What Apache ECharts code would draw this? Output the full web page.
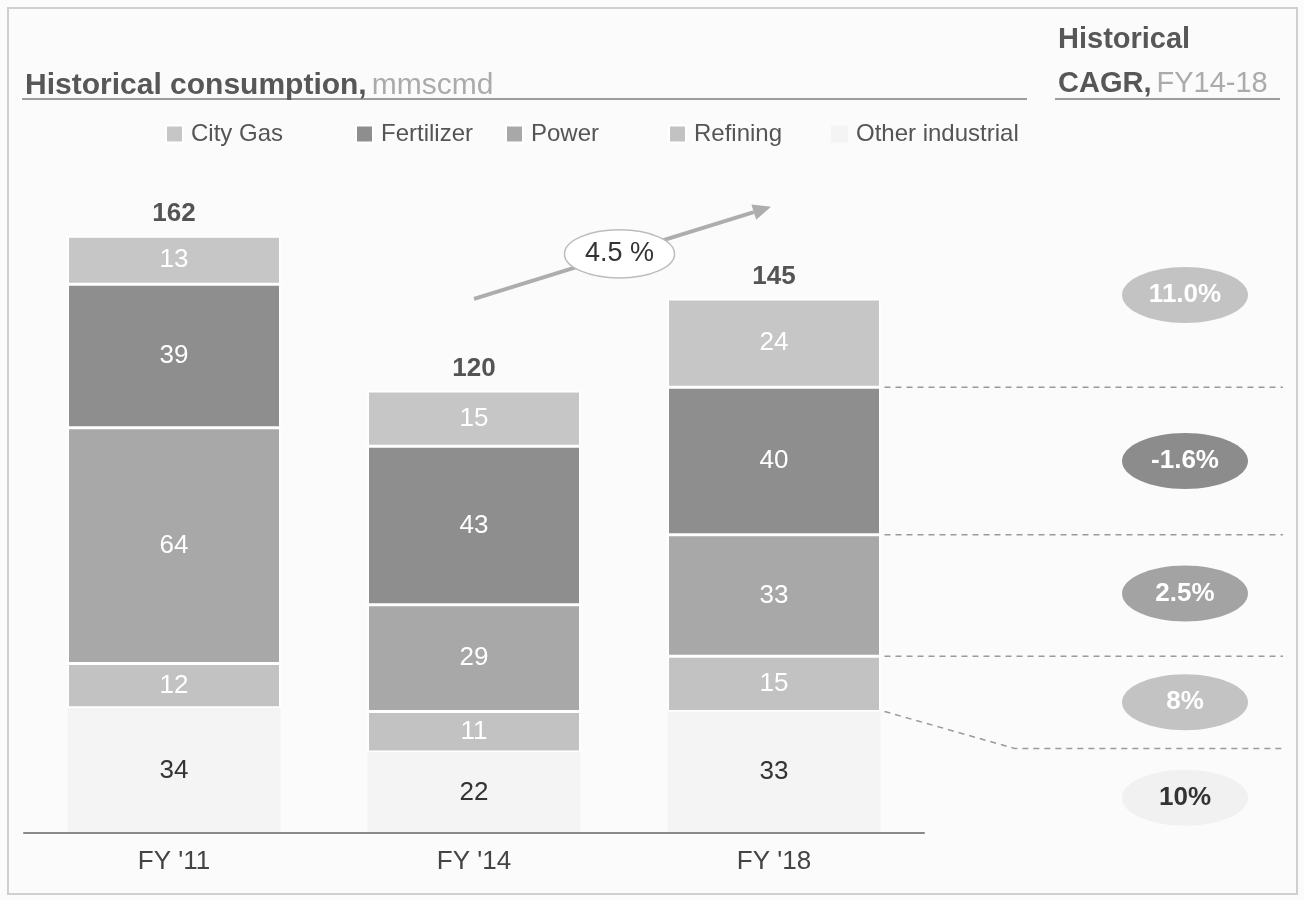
<!DOCTYPE html>
<html>
<head>
<meta charset="utf-8">
<script src="https://cdn.jsdelivr.net/npm/echarts@6/dist/echarts.min.js"></script>
<style>
  html, body { margin: 0; padding: 0; background: #fbfbfb; }
  #chart { width: 1304px; height: 900px; }
</style>
</head>
<body>
<div id="chart"></div>
<script>
// Gas consumption by segment, mmscmd
const years = ["FY '11", "FY '14", "FY '18"];
const cityGas = [13, 15, 24];
const fertilizer = [39, 43, 40];
const power = [64, 29, 33];
const refining = [12, 11, 15];
const otherIndustrial = [34, 22, 33];

// FY14-18 growth rates: City Gas, Fertilizer, Power, Refining, Other industrial
const segmentCagr = ['11.0%', '-1.6%', '2.5%', '8%', '10%'];
const totalCagr = '4.5 %';

const FONT = '"Liberation Sans", Arial, sans-serif';
const BAR_W = 213;
const COLORS = {
  city: '#c6c6c6',
  fert: '#8e8e8e',
  power: '#a8a8a8',
  ref: '#c2c2c2',
  other: '#f4f4f4'
};

const totals = years.map((_, i) =>
  cityGas[i] + fertilizer[i] + power[i] + refining[i] + otherIndustrial[i]);

function barSeries(name, data, color, labelColor, border) {
  return {
    name, type: 'bar', stack: 'total', data, barWidth: BAR_W,
    itemStyle: { color, borderColor: '#ffffff', borderWidth: border },
    label: {
      show: true, position: 'inside', color: labelColor,
      fontFamily: FONT, fontSize: 26
    },
    emphasis: { disabled: true }
  };
}

function legendItem(name, left) {
  return {
    data: [name], left, top: 117, icon: 'rect',
    itemWidth: 17, itemHeight: 17, itemGap: 0,
    textStyle: { fontFamily: FONT, fontSize: 24, color: '#555', padding: [0, 0, 0, 3] },
    selectedMode: false
  };
}

const option = {
  backgroundColor: '#fbfbfb',
  animation: false,
  title: [
    {
      text: '{a|Historical consumption,} {b|mmscmd}',
      left: 20, top: 66,
      textStyle: {
        rich: {
          a: { fontFamily: FONT, fontSize: 30, fontWeight: 'bold', color: '#575757' },
          b: { fontFamily: FONT, fontSize: 30, fontWeight: 'normal', color: '#ababab' }
        }
      }
    },
    {
      text: '{a|Historical}\n{a|CAGR,} {b|FY14-18}',
      left: 1053, top: 13,
      textStyle: {
        rich: {
          a: { fontFamily: FONT, fontSize: 29, fontWeight: 'bold', color: '#575757', lineHeight: 44 },
          b: { fontFamily: FONT, fontSize: 29, fontWeight: 'normal', color: '#ababab', lineHeight: 44 }
        }
      }
    }
  ],
  legend: [
    legendItem('City Gas', 160),
    legendItem('Fertilizer', 350),
    legendItem('Power', 500),
    legendItem('Refining', 663),
    legendItem('Other industrial', 826)
  ],
  grid: { left: 24, right: 380, top: 170, bottom: 67 },
  xAxis: {
    type: 'category', data: years, z: 5,
    axisLine: { lineStyle: { color: '#8a8a8a', width: 2 } },
    axisTick: { show: false },
    axisLabel: { fontFamily: FONT, fontSize: 26, color: '#444', margin: 16 }
  },
  yAxis: { type: 'value', min: 0, max: 180, show: false, splitLine: { show: false } },
  series: [
    barSeries('Other industrial', otherIndustrial, COLORS.other, '#333', 0),
    barSeries('Refining', refining, COLORS.ref, '#ffffff', 1.5),
    barSeries('Power', power, COLORS.power, '#ffffff', 1.5),
    barSeries('Fertilizer', fertilizer, COLORS.fert, '#ffffff', 1.5),
    barSeries('City Gas', cityGas, COLORS.city, '#ffffff', 1.5),
    {
      name: 'Total', type: 'scatter', data: totals,
      symbolSize: 1, itemStyle: { color: 'rgba(0,0,0,0)' },
      label: {
        show: true, position: 'top', distance: 9,
        fontFamily: FONT, fontSize: 26, fontWeight: 'bold', color: '#2b2b2b'
      },
      emphasis: { disabled: true }
    }
  ]
};

const chart = echarts.init(document.getElementById('chart'));
chart.setOption(option);

// Annotations placed from the chart's own scales
const px = (i, v) => chart.convertToPixel({ xAxisIndex: 0, yAxisIndex: 0 }, [i, v]);
const yOf = v => px(2, v)[1];

const last = 2;
const c0 = otherIndustrial[last];
const c1 = c0 + refining[last];
const c2 = c1 + power[last];
const c3 = c2 + fertilizer[last];
const c4 = c3 + cityGas[last];

const xRight = px(last, 0)[0] + BAR_W / 2 + 4;
const xEnd = 1283;
const dashStyle = { stroke: '#9a9a9a', lineWidth: 1.5, lineDash: [6, 5] };
const yDrop = yOf(c0) + 37;

const graphics = [];

// frame and header rules
graphics.push({ type: 'rect', shape: { x: 8, y: 8, width: 1289, height: 886 },
  style: { fill: null, stroke: '#cfcfcf', lineWidth: 2 }, silent: true });
graphics.push({ type: 'line', shape: { x1: 22, y1: 99, x2: 1027, y2: 99 },
  style: { stroke: '#9c9c9c', lineWidth: 2 }, silent: true });
graphics.push({ type: 'line', shape: { x1: 1055, y1: 99, x2: 1280, y2: 99 },
  style: { stroke: '#9c9c9c', lineWidth: 2 }, silent: true });

// dashed guides from the FY '18 segments
[c3, c2, c1].forEach(v => {
  const y = yOf(v);
  graphics.push({ type: 'line', shape: { x1: xRight, y1: y, x2: xEnd, y2: y }, style: dashStyle, silent: true });
});
graphics.push({ type: 'polyline',
  shape: { points: [[xRight, yOf(c0)], [xRight + 130, yDrop], [xEnd, yDrop]] },
  style: Object.assign({ fill: null }, dashStyle), silent: true });

// segment growth ellipses
const ecx = 1185, erx = 63, ery = 28;
const ellipseSpec = [
  { y: (yOf(c4 + 25) + yOf(c3)) / 2 - 2, fill: '#c3c3c3', text: '#ffffff' },
  { y: (yOf(c3) + yOf(c2)) / 2, fill: '#8c8c8c', text: '#ffffff' },
  { y: (yOf(c2) + yOf(c1)) / 2 - 2, fill: '#a3a3a3', text: '#ffffff' },
  { y: (yOf(c1) + yDrop) / 2, fill: '#c3c3c3', text: '#ffffff' },
  { y: (yDrop + yOf(0)) / 2 + 7, fill: '#f1f1f1', text: '#333333' }
];
ellipseSpec.forEach((s, k) => {
  graphics.push({
    type: 'ellipse', shape: { cx: ecx, cy: s.y, rx: erx, ry: ery },
    style: { fill: s.fill }, silent: true,
    textContent: { style: { text: segmentCagr[k], fill: s.text, font: 'bold 26px ' + FONT } },
    textConfig: { position: 'inside' }
  });
});

// overall growth arrow between FY '14 and FY '18
const a0 = [px(1, 0)[0], yOf(totals[2])];
const a1 = [px(2, 0)[0] - 3, yOf(totals[2] + 25)];
const dx = a1[0] - a0[0], dy = a1[1] - a0[1];
const len = Math.hypot(dx, dy);
const ux = dx / len, uy = dy / len, nx = -uy, ny = ux;
const head = 18, half = 8;
const base = [a1[0] - ux * head, a1[1] - uy * head];
graphics.push({ type: 'line', shape: { x1: a0[0], y1: a0[1], x2: base[0], y2: base[1] },
  style: { stroke: '#adadad', lineWidth: 4 }, silent: true });
graphics.push({ type: 'polygon',
  shape: { points: [a1, [base[0] + nx * half, base[1] + ny * half], [base[0] - nx * half, base[1] - ny * half]] },
  style: { fill: '#adadad' }, silent: true });
const mid = [(a0[0] + a1[0]) / 2, (a0[1] + a1[1]) / 2];
graphics.push({
  type: 'ellipse', shape: { cx: mid[0] - 3, cy: mid[1] + 1, rx: 55, ry: 24 },
  style: { fill: '#ffffff', stroke: '#bdbdbd', lineWidth: 1.5 }, silent: true,
  textContent: { style: { text: totalCagr, fill: '#333', font: '27px ' + FONT } },
  textConfig: { position: 'inside' }
});

chart.setOption({ graphic: { elements: graphics } });
</script>
</body>
</html>
